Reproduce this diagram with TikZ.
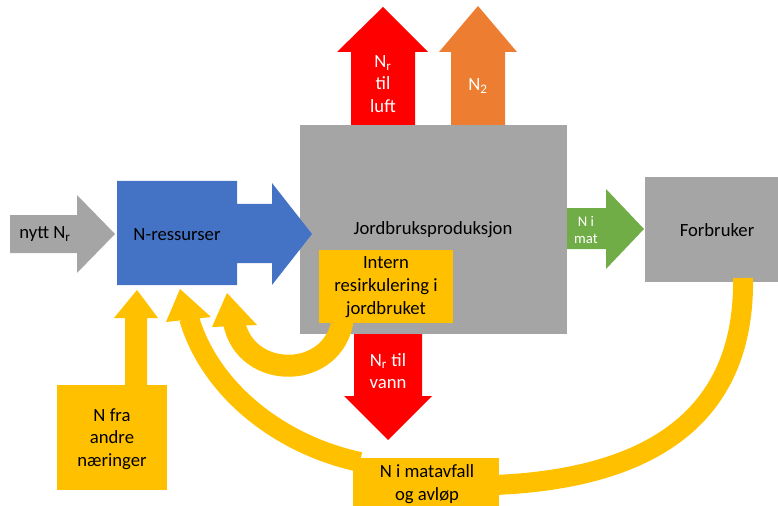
\documentclass[tikz,border=0pt]{standalone}
\usepackage{fontspec}
\setmainfont{Carlito}
\usepackage{xcolor}
\definecolor{graaN}{HTML}{A5A5A5}
\definecolor{blaaN}{HTML}{4472C4}
\definecolor{oransjeN}{HTML}{ED7D31}
\definecolor{roedN}{HTML}{FF0000}
\definecolor{groennN}{HTML}{70AD47}
\definecolor{gulN}{HTML}{FFC000}

\begin{document}
\begin{tikzpicture}[x=0.75pt, y=-0.75pt, font=\fontsize{14}{17}\selectfont,
  txt/.style={align=center, inner sep=0pt},
  band/.style={draw=gulN, line width=15pt}]
\useasboundingbox (0,0) rectangle (778,506);

\coordinate (fb) at (743,278);
\coordinate (avfallH) at (495,485);
\coordinate (avfallV) at (360,462);
\coordinate (ressA) at (189,318);
\coordinate (internB) at (343,318);
\coordinate (ressB) at (234,322);

% bokser
\fill[graaN] (300,125) rectangle (567,334);
\fill[graaN] (645,177) rectangle (778,282);

% pil inn
\fill[graaN] (10,215) -- (77,215) -- (77,195) -- (115,234) -- (77,273) -- (77,253) -- (10,253) -- cycle;
\fill[blaaN] (117,181) -- (237,181) -- (237,204) -- (272,204) -- (272,183) -- (312,234)
  -- (272,285) -- (272,263) -- (237,263) -- (237,285) -- (117,285) -- cycle;

% tap til luft
\fill[roedN] (351,125) -- (351,52) -- (337,52) -- (383,7) -- (428,52) -- (415,52) -- (415,125) -- cycle;
\fill[oransjeN] (451,125) -- (451,52) -- (439,52) -- (478,6) -- (517,52) -- (505,52) -- (505,125) -- cycle;

% mat
\fill[groennN] (567,208) -- (606,208) -- (606,189) -- (644,229) -- (606,269) -- (606,249) -- (567,249) -- cycle;

% gule piler
\draw[band] (fb) .. controls (745,410) and (660,478) .. (avfallH);
\draw[band] (ressA) .. controls (210,390) and (280,445) .. (avfallV);
\fill[gulN] (166,322) -- (180,289) -- (211,317) -- cycle;
\draw[band, line width=16.5pt] (internB) .. controls (335,381) and (245,381) .. (ressB);
\fill[gulN] (212,327) -- (227,293) -- (257,325) -- cycle;
\fill[gulN] (125,386) -- (125,318) -- (114,318) -- (137,290) -- (158,318) -- (147,318) -- (147,386) -- cycle;

% tap til vann
\fill[roedN] (354,334) -- (354,396) -- (344,396) -- (388,440) -- (432,396) -- (422,396) -- (422,334) -- cycle;

\fill[gulN] (319,250) rectangle (453,323);
\fill[gulN] (57,385) rectangle (167,490);
\fill[gulN] (353,458) rectangle (499,506);

% tekst
\node[txt] (nytt) at (45,234) {nytt N\textsubscript{r}};
\node[txt] (ress) at (177,235) {N-ressurser};
\node[txt] (jord) at (433,230) {Jordbruksproduksjon};
\node[txt] (forb) at (717,230) {Forbruker};
\node[txt, white] (luft) at (383,84) {N\textsubscript{r}\\til\\luft};
\node[txt, white] (n2) at (478,86) {N\textsubscript{2}};
\node[txt, white] (vann) at (388,371) {N\textsubscript{r} til\\vann};
\node[txt, white, font=\fontsize{11}{13}\selectfont] (mat) at (586,230) {N i\\mat};
\node[txt] (intern) at (386,287) {Intern\\resirkulering i\\jordbruket};
\node[txt] (andre) at (112,439) {N fra\\andre\\næringer};
\node[txt] (avfall) at (427,484) {N i matavfall\\og avløp};
\end{tikzpicture}
\end{document}
